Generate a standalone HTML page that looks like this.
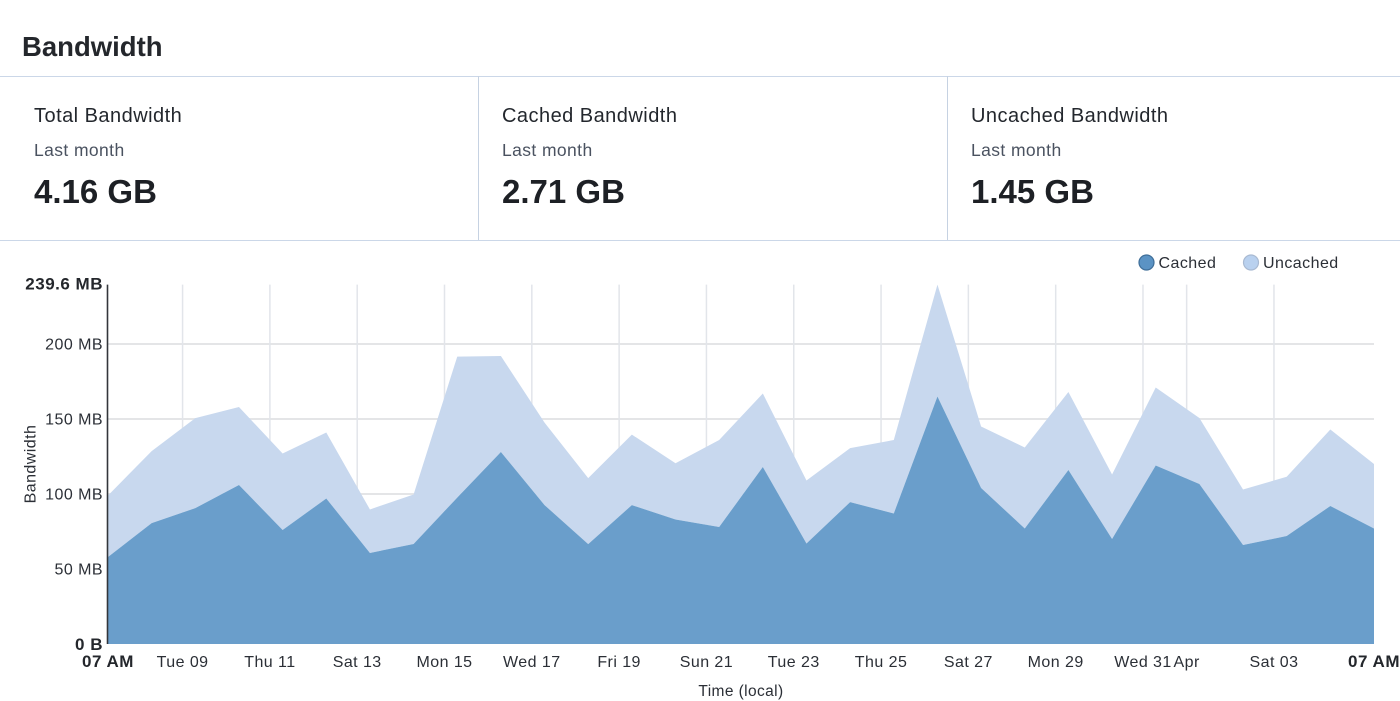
<!DOCTYPE html>
<html lang="en">
<head>
<meta charset="utf-8">
<title>Bandwidth</title>
<style>
html,body{margin:0;padding:0;background:#fff;}
body{width:1400px;height:701px;overflow:hidden;position:relative;font-family:"Liberation Sans",sans-serif;color:#1f2328;}
.abs{position:absolute;white-space:nowrap;line-height:1;}
.h{background:#cbd7e8;height:1px;left:0;width:1400px;}
.v{background:#c6d2e2;width:1px;top:76px;height:164px;}
.title{top:32px;font-size:20px;letter-spacing:.47px;color:#23272d;}
.sub{top:142px;font-size:17.5px;letter-spacing:.4px;color:#4a5260;}
.val{top:175px;font-size:33px;font-weight:bold;color:#1d2025;}
#chart{position:absolute;left:0;top:0;}
</style>
</head>
<body>
<div class="abs" style="left:22px;top:33px;font-size:27.5px;font-weight:bold;letter-spacing:0;color:#24272c;">Bandwidth</div>
<div class="abs h" style="top:76px"></div>
<div class="abs h" style="top:240px"></div>
<div class="abs v" style="left:478px"></div>
<div class="abs v" style="left:947px"></div>

<div class="abs title" style="left:34px;top:106px">Total Bandwidth</div>
<div class="abs sub" style="left:34px">Last month</div>
<div class="abs val" style="left:34px">4.16 GB</div>

<div class="abs title" style="left:502px;top:106px">Cached Bandwidth</div>
<div class="abs sub" style="left:502px">Last month</div>
<div class="abs val" style="left:502px">2.71 GB</div>

<div class="abs title" style="left:971px;top:106px">Uncached Bandwidth</div>
<div class="abs sub" style="left:971px">Last month</div>
<div class="abs val" style="left:971px">1.45 GB</div>

<svg id="chart" width="1400" height="701" viewBox="0 0 1400 701" xmlns="http://www.w3.org/2000/svg"></svg>

<script>
const dates = ['03-07','03-08','03-09','03-10','03-11','03-12','03-13','03-14','03-15','03-16','03-17','03-18','03-19','03-20','03-21','03-22','03-23','03-24','03-25','03-26','03-27','03-28','03-29','03-30','03-31','04-01','04-02','04-03','04-04','04-05'];
const cachedValues = [58,80.6,90.6,106,76,97,60.7,66.7,97.6,128,92.6,66.6,92.6,83,78,118,67,94.6,87,165,104,77,116,70,119,106.7,66,72,92,77];
const uncachedValues = [41,48,60,52,51,44,29,33,94,64,55,44,47,37.5,58,49,42,36,49,74.6,41,54,52,43,52,44,37,39.5,51,43];
const xTickDates = ['03-09','03-11','03-13','03-15','03-17','03-19','03-21','03-23','03-25','03-27','03-29','03-31','04-01','04-03'];
const xTickLabels = ['Tue 09','Thu 11','Sat 13','Mon 15','Wed 17','Fri 19','Sun 21','Tue 23','Thu 25','Sat 27','Mon 29','Wed 31','Apr','Sat 03'];
const yTickValues = [50,100,150,200];
const yTickLabels = ['50 MB','100 MB','150 MB','200 MB'];
const yMaxValue = 239.6;
const yMaxLabel = '239.6 MB';
const yMinLabel = '0 B';
const xEdgeLabel = '07 AM';

const NS = 'http://www.w3.org/2000/svg';
const svg = document.getElementById('chart');
const plot = {left:108, right:1374, top:284.6, bottom:644};

function toTime(d, hour){
  const parts = d.split('-');
  return Date.UTC(2021, Number(parts[0]) - 1, Number(parts[1]), hour);
}
const tMin = toTime(dates[0], 7);
const tMax = toTime(dates[dates.length - 1], 7);
function xScale(t){ return plot.left + (t - tMin) / (tMax - tMin) * (plot.right - plot.left); }
function yScale(v){ return plot.bottom - v / yMaxValue * (plot.bottom - plot.top); }

function make(tag, attrs, text){
  const el = document.createElementNS(NS, tag);
  for (const k in attrs) el.setAttribute(k, attrs[k]);
  if (text !== undefined) el.textContent = text;
  svg.appendChild(el);
  return el;
}
const font = '"Liberation Sans", sans-serif';
const tickStyle = {'font-family':font,'font-size':16,'letter-spacing':'.45','fill':'#2b2f36'};
const boldStyle = {'font-family':font,'font-size':17,'font-weight':'bold','letter-spacing':'.5','fill':'#24272c'};

yTickValues.forEach(function(v, i){
  const y = yScale(v);
  const line = make('line', {x1:plot.left, x2:plot.right, y1:y, y2:y, stroke:'#e4e5e7', 'stroke-width':2});
  
  
  const label = make('text', Object.assign({x:103, y:y + 5.5, 'text-anchor':'end'}, tickStyle), yTickLabels[i]);
  
  
});

xTickDates.forEach(function(d, i){
  const x = xScale(toTime(d, 0));
  const line = make('line', {x1:x, x2:x, y1:plot.top, y2:plot.bottom, stroke:'#e2e5ea', 'stroke-width':1.5});
  
  
  const label = make('text', Object.assign({x:x, y:667, 'text-anchor':'middle'}, tickStyle), xTickLabels[i]);
  
  
});

const xs = dates.map(function(d){ return xScale(toTime(d, 7)); });
const cachedTops = cachedValues.map(function(v){ return yScale(v); });
const totalTops = cachedValues.map(function(v, i){ return yScale(v + uncachedValues[i]); });

function polyPoints(tops, bases){
  const up = tops.map(function(y, i){ return xs[i].toFixed(2) + ',' + y.toFixed(2); });
  const down = bases.map(function(y, i){ return xs[i].toFixed(2) + ',' + y.toFixed(2); }).reverse();
  return up.concat(down).join(' ');
}
const uncachedArea = make('polygon', {points:polyPoints(totalTops, cachedTops), fill:'#c8d8ee'});


const baseline = dates.map(function(){ return yScale(0); });
const cachedArea = make('polygon', {points:polyPoints(cachedTops, baseline), fill:'#6a9ecb'});



const yAxis = make('line', {x1:107.5, x2:107.5, y1:plot.top, y2:plot.bottom, stroke:'#33363b', 'stroke-width':1.6});



const yMax = make('text', Object.assign({x:103, y:289.5, 'text-anchor':'end'}, boldStyle), yMaxLabel);


const yMin = make('text', Object.assign({x:103, y:650, 'text-anchor':'end'}, boldStyle), yMinLabel);


const xStart = make('text', Object.assign({x:108, y:667, 'text-anchor':'middle'}, boldStyle), xEdgeLabel);


const xEnd = make('text', Object.assign({x:1400, y:667, 'text-anchor':'end'}, boldStyle), xEdgeLabel);



const yTitle = make('text', {x:0, y:0, transform:'translate(35.5 464) rotate(-90)', 'text-anchor':'middle', 'font-family':font, 'font-size':16, 'letter-spacing':'.45', fill:'#2b2f36'}, 'Bandwidth');


const xTitle = make('text', {x:741, y:696, 'text-anchor':'middle', 'font-family':font, 'font-size':15.5, 'letter-spacing':'.4', fill:'#2b2f36'}, 'Time (local)');



const cachedSwatch = make('circle', {cx:1146.5, cy:262.5, r:7.5, fill:'#5b93c4', stroke:'#3f6e98', 'stroke-width':1.2});


const cachedText = make('text', Object.assign({x:1158.5, y:268}, tickStyle), 'Cached');


const uncachedSwatch = make('circle', {cx:1251, cy:262.5, r:7.5, fill:'#b9d1ef', stroke:'#a9bad2', 'stroke-width':1.2});


const uncachedText = make('text', Object.assign({x:1263, y:268}, tickStyle), 'Uncached');


</script>
</body>
</html>
